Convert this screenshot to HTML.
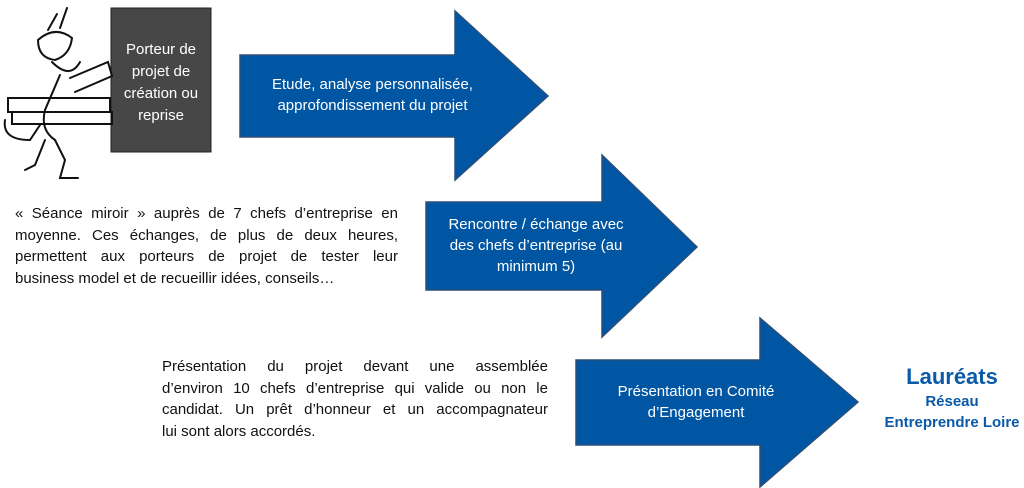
<!DOCTYPE html>
<html><head><meta charset="utf-8"><style>
body{margin:0;width:1024px;height:488px;background:#fff;position:relative;overflow:hidden;font-family:"Liberation Sans",sans-serif}
.t{position:absolute;color:#fff;text-align:center;font-size:15px;line-height:21px}
.p{position:absolute;font-size:15px;line-height:21.5px;color:#111}
.p div{text-align:justify;text-align-last:justify;white-space:nowrap}
.p div.l{text-align-last:left}
</style></head><body>
<svg width="1024" height="488" style="position:absolute;left:0;top:0">
<g fill="#0056a3" stroke="#2a4f7a" stroke-width="1.5">
<polygon points="240,55 455,55 455,11 548,96 455,180 455,137 240,137"/>
<polygon points="426,202 602,202 602,155 697,247 602,337 602,290 426,290"/>
<polygon points="576,360 760,360 760,318 858,402 760,487 760,445 576,445"/>
</g>
<rect x="111" y="8" width="100" height="144" fill="#474747" stroke="#222"/>
<g fill="none" stroke="#111" stroke-width="2" stroke-linecap="round">
<path d="M57,14 L48,30 M67,8 L60,28"/>
<path d="M38,40 Q55,25 72,38 Q70,55 55,60 Q38,58 38,40Z"/>
<path d="M52,62 Q70,80 80,62"/>
<path d="M60,75 L45,110 Q40,130 55,140"/>
<path d="M8,98 L110,98 L110,112 L8,112Z"/>
<path d="M12,112 L112,112 L112,124 L12,124Z"/>
<path d="M70,78 L108,62 L112,76 L75,92"/>
<path d="M5,120 Q2,140 30,140 L40,125"/>
<path d="M45,140 L35,165 L25,170 M55,140 L65,160 L60,178 L78,178"/>
</g>
</svg>
<div class="t" style="left:111px;top:39px;width:100px;line-height:22px">Porteur de<br>projet de<br>création ou<br>reprise</div>
<div class="t" style="left:230px;top:74px;width:285px">Etude, analyse personnalisée,<br>approfondissement du projet</div>
<div class="t" style="left:416px;top:214px;width:240px">Rencontre / échange avec<br>des chefs d’entreprise (au<br>minimum 5)</div>
<div class="t" style="left:576px;top:381px;width:240px">Présentation en Comité<br>d’Engagement</div>
<div style="position:absolute;left:852px;top:363px;width:200px;text-align:center;color:#0a5aa8;font-weight:bold">
<div style="font-size:22px;line-height:28px">Lauréats</div>
<div style="font-size:15px;line-height:21px">Réseau<br>Entreprendre Loire</div></div>
<div class="p" style="left:15px;top:203px;width:383px">
<div>« Séance miroir » auprès de 7 chefs d’entreprise en</div>
<div>moyenne. Ces échanges, de plus de deux heures,</div>
<div>permettent aux porteurs de projet de tester leur</div>
<div class="l">business model et de recueillir idées, conseils…</div>
</div>
<div class="p" style="left:162px;top:356px;width:386px">
<div>Présentation du projet devant une assemblée</div>
<div>d’environ 10 chefs d’entreprise qui valide ou non le</div>
<div>candidat. Un prêt d’honneur et un accompagnateur</div>
<div class="l">lui sont alors accordés.</div>
</div>
</body></html>
